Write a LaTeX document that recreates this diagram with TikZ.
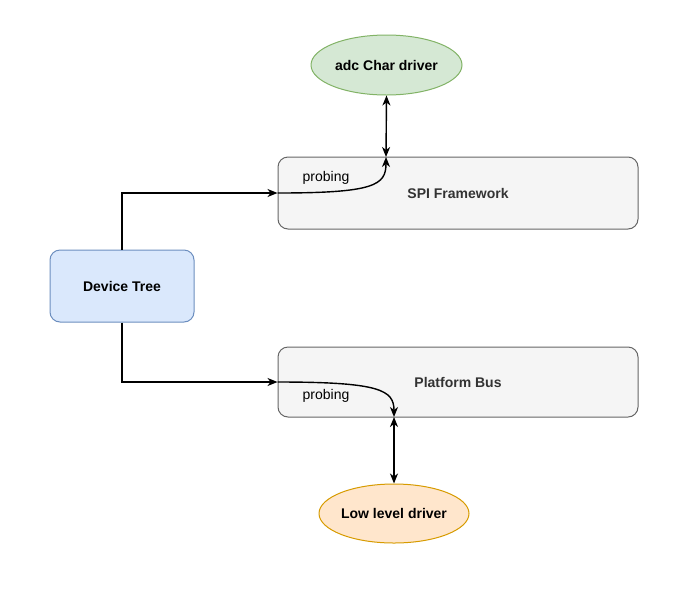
\documentclass[tikz,border=0pt]{standalone}
\usepackage{fontspec}
\setmainfont{Liberation Sans}
\usetikzlibrary{arrows.meta,shapes.geometric}
\definecolor{blueF}{HTML}{DAE8FC}\definecolor{blueS}{HTML}{6C8EBF}
\definecolor{grayF}{HTML}{F5F5F5}\definecolor{grayS}{HTML}{666666}
\definecolor{greenF}{HTML}{D5E8D4}\definecolor{greenS}{HTML}{82B366}
\definecolor{orangeF}{HTML}{FFE6CC}\definecolor{orangeS}{HTML}{D79B00}
\definecolor{txt}{HTML}{333333}
\begin{document}
\begin{tikzpicture}[x=1pt,y=-1pt,
  every node/.style={font=\fontsize{14}{16}\selectfont},
  bold/.style={font=\bfseries\fontsize{14}{16}\selectfont},
  rbox/.style={draw, rounded corners=10pt, line width=1pt, inner sep=0pt},
  ell/.style={ellipse, draw, line width=1pt, inner sep=0pt},
  conn/.style={line width=1.4pt, -{Stealth[length=10pt,width=8pt,inset=3pt]}},
  dconn/.style={line width=1.4pt, {Stealth[length=10pt,width=8pt,inset=3pt]}-{Stealth[length=10pt,width=8pt,inset=3pt]}}]
\useasboundingbox (0,0) rectangle (698,590);
\fill[white] (0,0) rectangle (698,590);
\node[rbox, bold, fill=blueF, draw=blueS, minimum width=144pt, minimum height=72pt] (dt) at (122,286) {Device Tree};
\node[rbox, bold, fill=grayF, draw=grayS, minimum width=360pt, minimum height=72pt, text=txt] (spi) at (458,193) {SPI Framework};
\node[rbox, bold, fill=grayF, draw=grayS, minimum width=360pt, minimum height=70pt, text=txt] (pb) at (458,382) {Platform Bus};
\node[ell, bold, fill=greenF, draw=greenS, minimum width=151pt, minimum height=60pt] (adc) at (386.5,65) {adc Char driver};
\node[ell, bold, fill=orangeF, draw=orangeS, minimum width=150pt, minimum height=59pt] (low) at (394,513.5) {Low level driver};
\coordinate (spiIn) at (386,157);
\coordinate (pbIn) at (394,417);
\node (p1) at (326,178) {probing};
\node (p2) at (326,396) {probing};
\draw[conn] (dt.north) |- (spi.west);
\draw[conn] (dt.south) |- (pb.west);
\draw[conn] (spi.west) .. controls (375,193) and (386,185) .. (spiIn);
\draw[conn] (pb.west) .. controls (380,382) and (394,390) .. (pbIn);
\draw[dconn] (adc.south) -- (spiIn);
\draw[dconn] (pbIn) -- (low.north);
\end{tikzpicture}
\end{document}
